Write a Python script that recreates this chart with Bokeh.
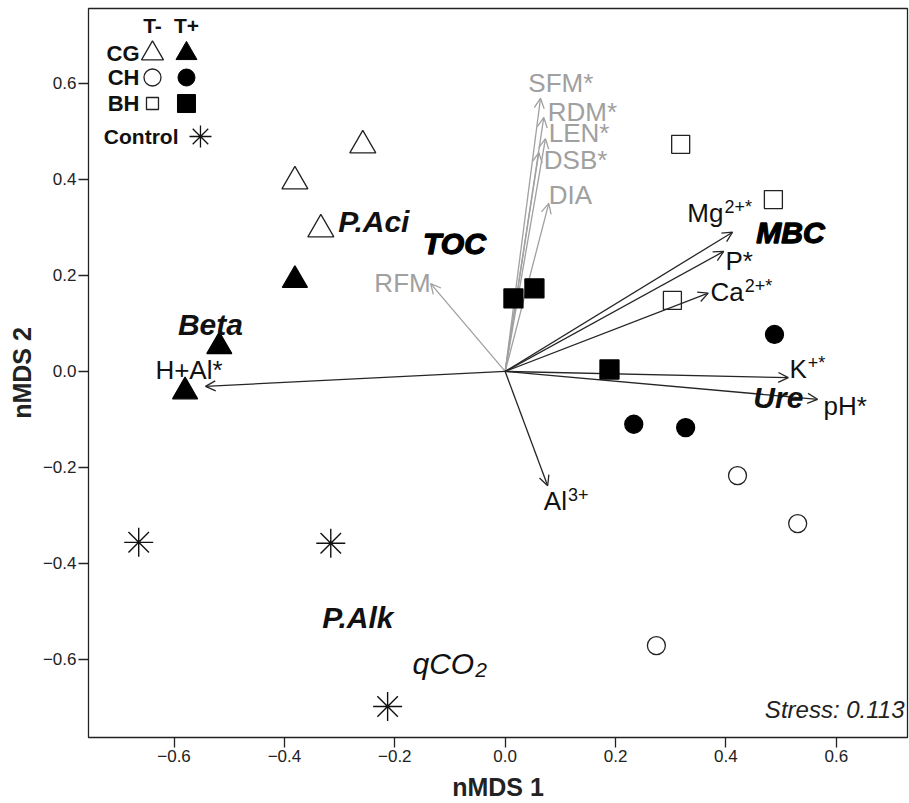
from bokeh.plotting import figure
from bokeh.models import Range1d, FixedTicker, ColumnDataSource, Arrow, OpenHead, Label
from bokeh.core.properties import value
from bokeh.embed import file_html
from bokeh.resources import INLINE

FONT = "Liberation Sans"

# ---------------- data (nMDS scores) ----------------
# CG: T- (open triangles), T+ (filled triangles)
cg_tm_x = [-0.258, -0.381, -0.334]
cg_tm_y = [0.471, 0.396, 0.296]
cg_tp_x = [-0.381, -0.518, -0.580]
cg_tp_y = [0.190, 0.052, -0.042]
# CH: T- (open circles), T+ (filled circles)
ch_tm_x = [0.421, 0.530, 0.274]
ch_tm_y = [-0.217, -0.317, -0.571]
ch_tp_x = [0.488, 0.233, 0.327]
ch_tp_y = [0.077, -0.110, -0.117]
# BH: T- (open squares), T+ (filled squares)
bh_tm_x = [0.318, 0.486, 0.303]
bh_tm_y = [0.473, 0.358, 0.148]
bh_tp_x = [0.015, 0.053, 0.189]
bh_tp_y = [0.152, 0.173, 0.004]
# Control (asterisks)
ctl_x = [-0.664, -0.316, -0.213]
ctl_y = [-0.356, -0.358, -0.698]

# plant variables (grey vectors)
plant_names = ["SFM*", "RDM*", "LEN*", "DSB*", "DIA"]
plant_x = [0.064, 0.070, 0.073, 0.061, 0.079]
plant_y = [0.569, 0.529, 0.485, 0.456, 0.350]
plant_lab_x = [0.042, 0.077, 0.079, 0.070, 0.079]
plant_lab_y = [0.600, 0.540, 0.496, 0.440, 0.367]
rfm_name = ["RFM"]
rfm_x = [-0.135]
rfm_y = [0.183]
rfm_lab_x = [-0.135]
rfm_lab_y = [0.185]

# soil variables (black vectors)
soil_names = ["Mg", "P*", "Ca", "K", "pH*", "Al"]
soil_sup = ["2+*", "", "2+*", "+*", "", "3+"]
soil_x = [0.412, 0.396, 0.368, 0.513, 0.566, 0.077]
soil_y = [0.290, 0.250, 0.163, -0.013, -0.058, -0.238]
soil_lab_x = [0.330, 0.399, 0.372, 0.515, 0.577, 0.070]
soil_lab_y = [0.329, 0.231, 0.165, 0.006, -0.073, -0.269]
hal_name = ["H+Al*"]
hal_x = [-0.543]
hal_y = [-0.031]
hal_lab_x = [-0.512]
hal_lab_y = [0.002]

# microbial variables (italic labels)
micro_names = ["P.Aci", "Beta", "Ure", "P.Alk"]
micro_x = [-0.238, -0.534, 0.495, -0.267]
micro_y = [0.3125, 0.098, -0.054, -0.5125]
micro_bold_names = ["TOC", "MBC"]
micro_bold_x = [-0.092, 0.517]
micro_bold_y = [0.267, 0.290]
qco2_x = [-0.168]
qco2_y = [-0.608]

stress_text = "Stress: 0.113"
stress_y = -0.704

ticks = [-0.6, -0.4, -0.2, 0.0, 0.2, 0.4, 0.6]
tick_labels = ["\u22120.6", "\u22120.4", "\u22120.2", "0.0", "0.2", "0.4", "0.6"]

X0, X1 = -0.755, 0.729
Y0, Y1 = -0.7625, 0.756

# ---------------- figure ----------------
p = figure(width=909, height=803, x_range=Range1d(X0, X1), y_range=Range1d(Y0, Y1),
           output_backend="svg", toolbar_location=None,
           min_border_left=88, min_border_right=2, min_border_top=8, min_border_bottom=66)
p.xgrid.visible = False
p.ygrid.visible = False
p.outline_line_color = "#222222"
p.outline_line_width = 1.3
p.background_fill_color = "white"
p.border_fill_color = "white"

overrides = dict(zip(ticks, tick_labels))
for ax in (p.xaxis[0], p.yaxis[0]):
    ax.ticker = FixedTicker(ticks=ticks)
    ax.major_label_overrides = overrides
    ax.axis_line_color = None
    ax.major_tick_out = 10
    ax.major_tick_in = 0
    ax.major_tick_line_color = "#222222"
    ax.major_tick_line_width = 1.3
    ax.minor_tick_line_color = None
    ax.major_label_text_font = FONT
    ax.major_label_text_font_size = "17px"
    ax.major_label_text_color = "#222222"
    ax.major_label_standoff = 2
    ax.axis_label_text_font = FONT
    ax.axis_label_text_font_size = "25px"
    ax.axis_label_text_font_style = "bold"
    ax.axis_label_text_color = "#222222"
p.xaxis.axis_label = "nMDS 1"
p.yaxis.axis_label = "nMDS 2"
p.xaxis.axis_label_standoff = 8
p.yaxis.axis_label_standoff = 4

GRAY = "#a0a0a0"
DARK = "#262626"

# ---------------- vectors ----------------
def add_arrows(xs, ys, color):
    src = ColumnDataSource(dict(x0=[0.0] * len(xs), y0=[0.0] * len(xs), x1=xs, y1=ys))
    p.add_layout(Arrow(source=src, x_start="x0", y_start="y0", x_end="x1", y_end="y1",
                       line_color=color, line_width=1.3, level="underlay",
                       end=OpenHead(size=10, line_color=color, line_width=1.3)))

add_arrows(plant_x + rfm_x, plant_y + rfm_y, GRAY)
add_arrows(soil_x + hal_x, soil_y + hal_y, DARK)

# ---------------- points ----------------
LW = 1.3
p.scatter(cg_tm_x, cg_tm_y, marker="triangle", size=26, fill_color=None, line_color="#222222", line_width=LW)
p.scatter(cg_tp_x, cg_tp_y, marker="triangle", size=25, fill_color="black", line_color="black", line_width=LW)
p.scatter(ch_tm_x, ch_tm_y, marker="circle", size=18, fill_color=None, line_color="#222222", line_width=LW)
p.scatter(ch_tp_x, ch_tp_y, marker="circle", size=18, fill_color="black", line_color="black", line_width=LW)
p.scatter(bh_tm_x, bh_tm_y, marker="square", size=18, fill_color=None, line_color="#222222", line_width=LW)
p.scatter(bh_tp_x, bh_tp_y, marker="square", size=19, fill_color="black", line_color="black", line_width=LW)
p.scatter(ctl_x, ctl_y, marker="asterisk", size=29, line_color="#111111", line_width=1.4)

# ---------------- labels ----------------
def txt(xs, ys, texts, size, color="#111111", align="left", style="normal", **kw):
    p.text(x=xs, y=ys, text=texts, text_font=value(FONT), text_font_size=size,
           text_color=color, text_align=align, text_baseline="middle",
           text_font_style=style, **kw)

txt(plant_lab_x, plant_lab_y, plant_names, "26px", GRAY)
txt(rfm_lab_x, rfm_lab_y, rfm_name, "26px", GRAY, align="right")
txt(soil_lab_x, soil_lab_y, soil_names, "26px")
txt(hal_lab_x, hal_lab_y, hal_name, "26px", align="right")

# superscripts, placed after the main label text
ADV = {"M": 0.833, "g": 0.556, "C": 0.722, "a": 0.556, "K": 0.667, "A": 0.667,
       "l": 0.222, "q": 0.556, "O": 0.778, "P": 0.667, "*": 0.389, "p": 0.556, "H": 0.722}
def adv(s, size):
    return sum(ADV.get(c, 0.556) for c in s) * size

sx, sy, st, so = [], [], [], []
for n, s, lxv, lyv in zip(soil_names, soil_sup, soil_lab_x, soil_lab_y):
    if s:
        sx.append(lxv); sy.append(lyv); st.append(s); so.append(adv(n, 26) + 1)
p.text(x=sx, y=sy, text=st, x_offset=so, y_offset=-6, text_font=value(FONT),
       text_font_size="18px", text_color="#111111", text_baseline="middle")

txt(micro_x, micro_y, micro_names, "30px", "#111111", align="center", style="bold italic")
txt(micro_bold_x, micro_bold_y, micro_bold_names, "30px", "#000000", align="center",
    style="bold italic", text_outline_color="#000000")
txt(qco2_x, qco2_y, ["qCO"], "30px", "#111111", style="italic")
txt(qco2_x, qco2_y, ["2"], "21px", "#111111", style="italic", x_offset=adv("qCO", 30) + 1, y_offset=7)

p.add_layout(Label(x=X1, y=stress_y, text=stress_text, x_offset=-3, text_align="right",
                   text_baseline="middle", text_font=FONT, text_font_size="24px",
                   text_font_style="italic", text_color="#222222"))

# ---------------- legend (hand-built, top-left) ----------------
PXU_X, PXU_Y = 552.0, 480.0
def lx(px):  # page pixel -> data x
    return X0 + (px - 88) / PXU_X
def ly(py):
    return Y1 - (py - 8) / PXU_Y

col_open, col_fill, col_lab = lx(152), lx(186), lx(139)
txt([col_open, col_fill], [ly(25), ly(25)], ["T-", "T+"], "21px", "#111111", align="center", style="bold")
txt([col_lab] * 3, [ly(53), ly(77), ly(103)], ["CG", "CH", "BH"], "22px", "#111111", align="right", style="bold")
txt([lx(178)], [ly(136)], ["Control"], "21px", "#111111", align="right", style="bold")
p.scatter([col_open], [ly(53)], marker="triangle", size=22, fill_color=None, line_color="#222222", line_width=LW)
p.scatter([col_fill], [ly(53)], marker="triangle", size=21, fill_color="black", line_color="black")
p.scatter([col_open], [ly(77)], marker="circle", size=17, fill_color=None, line_color="#222222", line_width=LW)
p.scatter([col_fill], [ly(77)], marker="circle", size=17, fill_color="black", line_color="black")
p.scatter([col_open], [ly(103)], marker="square", size=12, fill_color=None, line_color="#222222", line_width=LW)
p.scatter([col_fill], [ly(103)], marker="square", size=18, fill_color="black", line_color="black")
p.scatter([lx(200)], [ly(136)], marker="asterisk", size=22, line_color="#111111", line_width=1.3)

open("out.html", "w").write(file_html(p, INLINE))
